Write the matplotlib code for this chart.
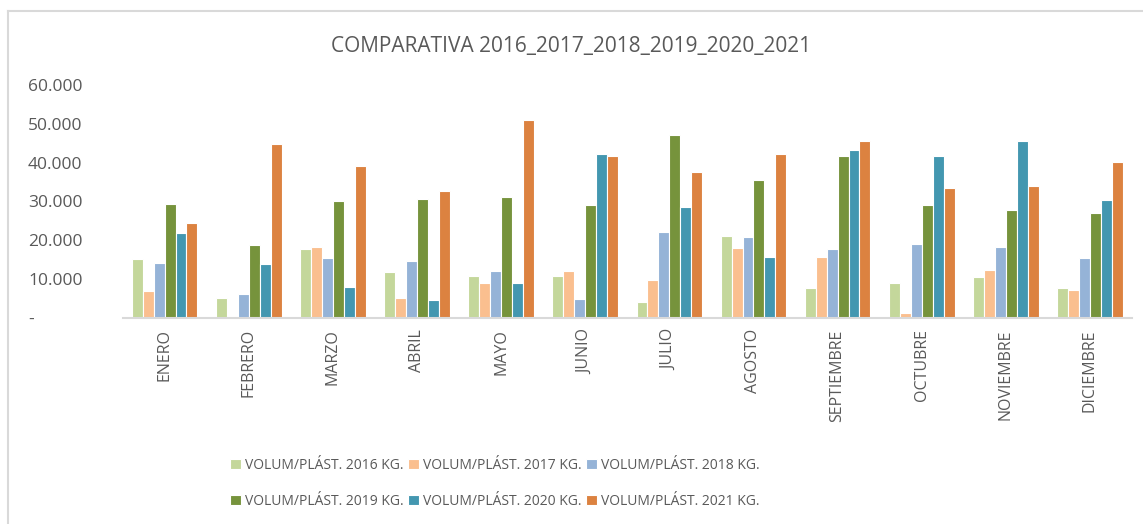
import numpy as np
import matplotlib
matplotlib.use("Agg")
import matplotlib.pyplot as plt
from matplotlib.lines import Line2D

plt.rcParams['font.family'] = ['Open Sans', 'DejaVu Sans']

months = ["ENERO", "FEBRERO", "MARZO", "ABRIL", "MAYO", "JUNIO", "JULIO",
          "AGOSTO", "SEPTIEMBRE", "OCTUBRE", "NOVIEMBRE", "DICIEMBRE"]

series_labels = ["VOLUM/PLÁST. 2016 KG.", "VOLUM/PLÁST. 2017 KG.", "VOLUM/PLÁST. 2018 KG.",
                 "VOLUM/PLÁST. 2019 KG.", "VOLUM/PLÁST. 2020 KG.", "VOLUM/PLÁST. 2021 KG."]

v2016 = [15100, 5100, 17900, 11900, 10700, 10700, 4200, 21100, 7700, 8900, 10500, 7700]
v2017 = [7000, 0, 18400, 5100, 8900, 12100, 9700, 18100, 15600, 1200, 12400, 7200]
v2018 = [14100, 6100, 15400, 14600, 12100, 4800, 22200, 20800, 17900, 19000, 18400, 15400]
v2019 = [29300, 18700, 30100, 30700, 31200, 29000, 47000, 35600, 41600, 29000, 27900, 27100]
v2020 = [21900, 13800, 8100, 4600, 8900, 42100, 28500, 15600, 43200, 41600, 45600, 30300]
v2021 = [24400, 44800, 39100, 32600, 51000, 41800, 37700, 42300, 45600, 33400, 33900, 40100]

colors = ["#C4D79B", "#FABF8F", "#95B3D7", "#76933C", "#4397B0", "#DC8240"]
yticks = [0, 10000, 20000, 30000, 40000, 50000, 60000]
ytick_labels = ["-", "10.000", "20.000", "30.000", "40.000", "50.000", "60.000"]

txt = "#595959"
fig = plt.figure(figsize=(11.43, 5.24), dpi=100)
ax = fig.add_axes([0.1072, 0.393, 0.8832, 0.445])

x = np.arange(len(months))
w = 0.13
data = [v2016, v2017, v2018, v2019, v2020, v2021]
bars = []
for i, (vals, c) in enumerate(zip(data, colors)):
    b = ax.bar(x + (i - 2.5) * w, vals, width=w, color=c, edgecolor="white",
               linewidth=0.8, label=series_labels[i])
    bars.append(b)

ax.set_xlim(-0.5, len(months) - 0.5)
ax.set_ylim(0, 60000)
ax.set_yticks(yticks)
ax.set_yticklabels(ytick_labels, color=txt, fontsize=12.5)
ax.set_xticks(x)
ax.set_xticklabels(months, rotation=90, color=txt, fontsize=11.5, va="top")
ax.tick_params(axis="both", length=0)
ax.tick_params(axis="y", pad=68)
ax.tick_params(axis="x", pad=8)
for lbl in ax.get_yticklabels():
    lbl.set_ha("left")
for s in ["top", "right", "left"]:
    ax.spines[s].set_visible(False)
ax.spines["bottom"].set_color("#D9D9D9")
ax.spines["bottom"].set_linewidth(1.5)

fig.text(0.4995, 0.911, "COMPARATIVA 2016_2017_2018_2019_2020_2021",
         ha="center", va="center", color=txt, fontsize=15)

# legend in row order (3 columns)
order = [0, 3, 1, 4, 2, 5]
handles = [bars[i] for i in order]
labels = [series_labels[i] for i in order]
fig.legend(handles, labels, ncol=3, loc="center", bbox_to_anchor=(0.433, 0.077),
           frameon=False, fontsize=10, labelcolor=txt, handlelength=0.75,
           handleheight=0.75, handletextpad=0.3, columnspacing=0.35, labelspacing=1.5)

# chart border (light gray)
fig.add_artist(Line2D([8 / 1143, 1.0], [1 - 11 / 524, 1 - 11 / 524],
                      color="#D9D9D9", lw=1.5, transform=fig.transFigure))
fig.add_artist(Line2D([8 / 1143, 8 / 1143], [0, 1 - 11 / 524],
                      color="#D9D9D9", lw=1.5, transform=fig.transFigure))

fig.savefig("out.png", dpi=100)
